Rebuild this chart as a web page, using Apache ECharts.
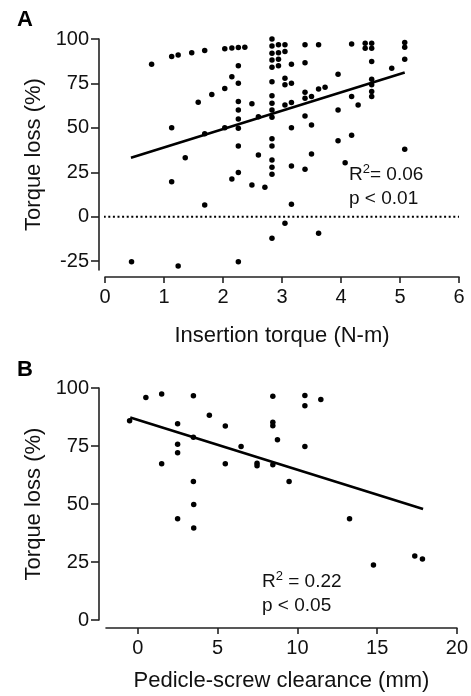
<!DOCTYPE html>
<html>
<head>
<meta charset="utf-8">
<script src="https://cdn.jsdelivr.net/npm/echarts@6/dist/echarts.min.js"></script>
<style>html,body{margin:0;padding:0;background:#fff}#c{width:471px;height:696px}</style>
</head>
<body>
<div id="c"></div>
<script>
// Panel A: insertion torque (N-m) vs torque loss (%)
const xA = [
  0.45, 0.79, 1.13, 1.13, 1.13, 1.24, 1.24, 1.36, 1.47, 1.58, 1.69, 1.69, 1.69, 1.81,
  2.03, 2.03, 2.03, 2.15, 2.15, 2.15,
  2.26, 2.26, 2.26, 2.26, 2.26, 2.26, 2.26, 2.26, 2.26, 2.26,
  2.37, 2.49, 2.49, 2.60, 2.60, 2.71,
  2.83, 2.83, 2.83, 2.83, 2.83, 2.83, 2.83, 2.83, 2.83, 2.83, 2.83, 2.83, 2.83, 2.83, 2.83, 2.83,
  2.94, 2.94, 2.94, 2.94,
  3.05, 3.05, 3.05, 3.05, 3.05, 3.05,
  3.16, 3.16, 3.16, 3.16, 3.16, 3.16,
  3.39, 3.39, 3.39, 3.39, 3.39, 3.39,
  3.50, 3.50, 3.50, 3.62, 3.62, 3.62, 3.73,
  3.95, 3.95, 3.95, 4.07, 4.18, 4.18, 4.18, 4.29, 4.41, 4.41,
  4.52, 4.52, 4.52, 4.52, 4.52, 4.52, 4.52,
  4.86, 5.08, 5.08, 5.08, 5.08
];
const yA = [
  -25.3, 85.8, 90.1, 50.1, 19.7, 91.0, -27.8, 33.2, 92.3, 64.4, 93.5, 46.7, 6.6, 68.7,
  94.5, 72.1, 50.1, 95.0, 78.8, 21.2,
  95.2, 85.0, 75.1, 64.8, 60.1, 55.0, 49.8, 39.8, 24.8, -25.3,
  95.4, 63.5, 17.8, 56.3, 34.7, 16.6,
  100, 96.1, 92.0, 88.2, 84.1, 76.0, 68.0, 63.9, 60.1, 56.0, 43.8, 39.8, 31.9, 27.8, 23.9, -12.2,
  96.7, 92.3, 88.6, 84.9,
  96.7, 92.9, 77.9, 74.2, 62.9, -3.7,
  85.8, 75.1, 64.2, 50.1, 28.5, 7.0,
  96.7, 86.7, 70.0, 66.7, 56.7, 26.7,
  67.6, 51.6, 35.3, 96.7, 71.9, -9.3, 72.9,
  80.2, 60.1, 42.8, 30.4, 97.2, 67.6, 45.8, 62.9, 97.6, 94.8,
  97.6, 94.8, 87.3, 77.4, 74.2, 70.4, 67.6,
  83.6, 98.0, 95.4, 88.6, 37.9
];
const fitAx = [0.44, 5.08];
const fitAy = [33.2, 81.1];
const ticksAy = [-25, 0, 25, 50, 75, 100];
const refLineAx = [-0.1, 6];   // dotted zero line
const refLineAy = [0, 0];

// Panel B: pedicle-screw clearance (mm) vs torque loss (%)
const xB = [
  -0.52, 0.50, 1.49, 1.49, 2.49, 2.49, 2.49, 2.49, 3.48, 3.48, 3.48, 3.50, 3.50,
  4.48, 5.48, 5.48, 6.47, 7.47, 7.47, 8.46, 8.46, 8.46, 8.46, 8.75, 9.48,
  10.47, 10.47, 10.47, 11.47, 13.27, 14.77, 17.36, 17.84
];
const yB = [
  85.9, 95.9, 97.4, 67.3, 84.6, 75.8, 72.1, 43.6, 96.7, 78.8, 59.7, 49.8, 39.7,
  88.3, 83.6, 67.3, 74.8, 67.6, 66.5, 96.4, 85.2, 83.7, 66.9, 77.7, 59.7,
  96.8, 92.4, 74.8, 95.0, 43.6, 23.7, 27.6, 26.3
];
const fitBx = [-0.48, 17.88];
const fitBy = [87.3, 47.8];
const ticksBx = [0, 5, 10, 15, 20];

const FF = 'Arial, "Liberation Sans", Helvetica, sans-serif';
const INK = '#111';
const zip = (a, b) => a.map((v, i) => [v, b[i]]);

function axisCommon(extra) {
  return Object.assign({
    type: 'value',
    splitLine: { show: false },
    axisLine: { show: true, onZero: false, lineStyle: { color: '#222', width: 1.6 } },
    axisTick: { show: true, inside: false, length: 6, lineStyle: { color: '#222', width: 1.6 } },
    axisLabel: { color: INK, fontSize: 20, fontFamily: FF },
    nameLocation: 'middle',
    nameTextStyle: { color: INK, fontSize: 22, fontFamily: FF }
  }, extra);
}

const chart = echarts.init(document.getElementById('c'), null, { renderer: 'canvas' });
chart.setOption({
  animation: false,
  backgroundColor: '#fff',
  grid: [
    { left: 105, right: 12, top: 39, height: 231 },
    { left: 106, right: 12, top: 388, height: 232 }
  ],
  xAxis: [
    axisCommon({ gridIndex: 0, min: 0, max: 6, interval: 1, offset: 7,
      axisLabel: { color: INK, fontSize: 20, fontFamily: FF, margin: 10 },
      name: 'Insertion torque (N-m)', nameGap: 48 }),
    axisCommon({ gridIndex: 1, min: -2, max: 20, offset: 8,
      axisLabel: { color: INK, fontSize: 20, fontFamily: FF, margin: 10, customValues: ticksBx },
      axisTick: { show: true, length: 6, lineStyle: { color: '#222', width: 1.6 }, customValues: ticksBx },
      name: 'Pedicle-screw clearance (mm)', nameGap: 42 })
  ],
  yAxis: [
    axisCommon({ gridIndex: 0, min: -30, max: 100, offset: 6,
      axisLabel: { color: INK, fontSize: 20, fontFamily: FF, margin: 10, customValues: ticksAy },
      axisTick: { show: true, length: 8, lineStyle: { color: '#222', width: 1.6 }, customValues: ticksAy },
      name: 'Torque loss (%)', nameGap: 47 }),
    axisCommon({ gridIndex: 1, min: 0, max: 100, interval: 25, offset: 7,
      axisLabel: { color: INK, fontSize: 20, fontFamily: FF, margin: 10 },
      axisTick: { show: true, length: 8, lineStyle: { color: '#222', width: 1.6 } },
      name: 'Torque loss (%)', nameGap: 47 })
  ],
  series: [
    {
      type: 'line', xAxisIndex: 0, yAxisIndex: 0, data: zip(refLineAx, refLineAy),
      showSymbol: false, clip: false, silent: true,
      lineStyle: { color: '#000', width: 2, type: [2, 2.6] }
    },
    {
      type: 'scatter', xAxisIndex: 0, yAxisIndex: 0, data: zip(xA, yA),
      symbolSize: 5.5, itemStyle: { color: '#000', opacity: 1 }
    },
    {
      type: 'line', xAxisIndex: 0, yAxisIndex: 0, data: zip(fitAx, fitAy),
      showSymbol: false, lineStyle: { color: '#000', width: 2.6 }
    },
    {
      type: 'scatter', xAxisIndex: 1, yAxisIndex: 1, data: zip(xB, yB),
      symbolSize: 5.5, itemStyle: { color: '#000', opacity: 1 }
    },
    {
      type: 'line', xAxisIndex: 1, yAxisIndex: 1, data: zip(fitBx, fitBy),
      showSymbol: false, lineStyle: { color: '#000', width: 2.6 }
    }
  ],
  graphic: [
    { type: 'text', left: 17, top: 9, style: { text: 'A', font: 'bold 22px ' + FF, fill: '#000' } },
    { type: 'text', left: 17, top: 359, style: { text: 'B', font: 'bold 22px ' + FF, fill: '#000' } },
    { type: 'text', left: 349, top: 163, style: {
        text: '{a|R}{s|2}{a|= 0.06}\n{a|p < 0.01}', fill: INK,
        rich: { a: { fontSize: 19, fontFamily: FF, color: INK, lineHeight: 24 },
                s: { fontSize: 13, fontFamily: FF, color: INK, verticalAlign: 'top', lineHeight: 24 } } } },
    { type: 'text', left: 262, top: 570, style: {
        text: '{a|R}{s|2}{a| = 0.22}\n{a|p < 0.05}', fill: INK,
        rich: { a: { fontSize: 19, fontFamily: FF, color: INK, lineHeight: 24 },
                s: { fontSize: 13, fontFamily: FF, color: INK, verticalAlign: 'top', lineHeight: 24 } } } }
  ]
});
</script>
</body>
</html>
